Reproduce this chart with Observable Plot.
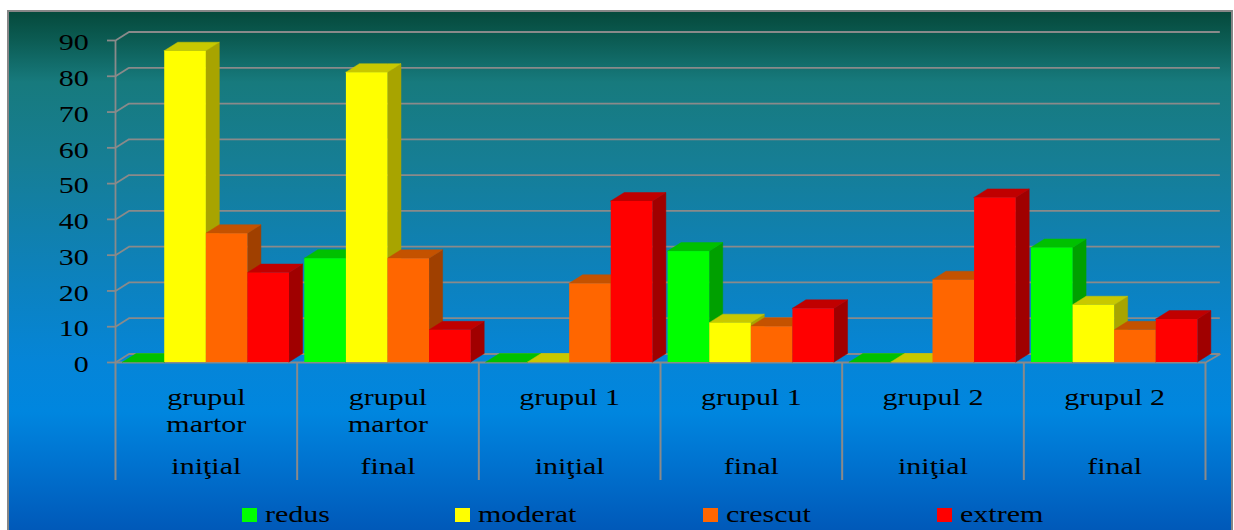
<!DOCTYPE html>
<html>
<head>
<meta charset="utf-8">
<script src="https://cdn.jsdelivr.net/npm/d3@7"></script>
<script src="https://cdn.jsdelivr.net/npm/@observablehq/plot@0.6"></script>
<style>
  html, body { margin: 0; padding: 0; background: #ffffff; width: 1234px; height: 530px; overflow: hidden; }
  #frame {
    position: absolute; left: 7px; top: 10px; width: 1222px; height: 530px;
    border: 2px solid #868686; border-bottom: none;
    background: linear-gradient(to bottom,
      #054a3c 0px, #0c5d55 30px, #177a7d 70px, #167e95 150px, #0e81b8 250px,
      #0585d8 350px, #0086df 400px, #0073d0 450px, #0058b8 520px);
  }
  #chart { position: absolute; left: 0; top: 0; }
  #legend { position: absolute; left: 0; top: 490px; width: 1234px; height: 40px;
    font-family: "Liberation Serif", "Times New Roman", serif; font-size: 24px; color: #000; }
  .item { position: absolute; top: 0; height: 40px; }
  .sw { position: absolute; left: 0; top: 18px; width: 15px; height: 14px; }
  .lab { position: absolute; left: 23px; top: 12px; line-height: 24px; white-space: nowrap;
    transform: scaleX(1.25); transform-origin: 0 50%; }
</style>
</head>
<body>
<div id="frame"></div>
<div id="chart"></div>
<div id="legend"></div>
<script>
// ---- data ----
const categories = ["grupul\nmartor", "grupul\nmartor", "grupul 1", "grupul 1", "grupul 2", "grupul 2"];
const phases = ["iniţial", "final", "iniţial", "final", "iniţial", "final"];
const series = ["redus", "moderat", "crescut", "extrem"];
const redus   = [0, 29, 0, 31, 0, 32];
const moderat = [87, 81, 0, 11, 0, 16];
const crescut = [36, 29, 22, 10, 23, 9];
const extrem  = [25, 9, 45, 15, 46, 12];
const yTicks = [0, 10, 20, 30, 40, 50, 60, 70, 80, 90];

// ---- styles ----
const frontColors = ["#00ff00", "#ffff00", "#ff6600", "#ff0000"];
const topColors   = ["#00c000", "#c8c800", "#c45200", "#c00000"];
const sideColors  = ["#00a000", "#a8a400", "#a04000", "#a00000"];
const gridColor = "#8a8a8a";

// ---- layout ----
const W = 1234, H = 490;
const mL = 115, mR = 29, mT = 40, mB = 128;
const nCat = categories.length;
const kx = (W - mL - mR) / nCat;      // px per category unit
const ky = (H - mT - mB) / 90;        // px per value unit
const dX = 13.5 / kx, dY = 8.5 / ky;  // 3D depth in data units
const pad = 0.042, bw = (1 - 2 * pad) / series.length;

const valuesBySeries = [redus, moderat, crescut, extrem];
const bars = [];
valuesBySeries.forEach((vals, s) => vals.forEach((v, g) => {
  const x1 = g + pad + s * bw;
  bars.push({s, g, id: s + "-" + g, value: v, x1, x2: x1 + bw});
}));

const sidePts = bars.flatMap(b => [
  {s: b.s, id: b.id, x: b.x2, y1: 0, y2: b.value},
  {s: b.s, id: b.id, x: b.x2 + dX, y1: dY, y2: b.value + dY}
]);
const topPts = bars.flatMap(b => [
  {s: b.s, id: b.id, x: b.x1, y1: b.value, y2: b.value},
  {s: b.s, id: b.id, x: b.x1 + dX, y1: b.value, y2: b.value + dY},
  {s: b.s, id: b.id, x: b.x2, y1: b.value, y2: b.value + dY},
  {s: b.s, id: b.id, x: b.x2 + dX, y1: b.value + dY, y2: b.value + dY}
]);

const catRows = categories.map((c, g) => ({g, c, p: phases[g]}));

const sideMarks = series.map((_, s) => Plot.areaY(sidePts.filter(d => d.s === s),
  {x: "x", y1: "y1", y2: "y2", z: "id", fill: sideColors[s], stroke: sideColors[s], strokeWidth: 0.5, curve: "linear"}));
const topMarks = series.map((_, s) => Plot.areaY(topPts.filter(d => d.s === s),
  {x: "x", y1: "y1", y2: "y2", z: "id", fill: topColors[s], stroke: topColors[s], strokeWidth: 0.5, curve: "linear"}));
const frontMarks = series.map((_, s) => Plot.rect(bars.filter(d => d.s === s),
  {x1: "x1", x2: "x2", y1: 0, y2: "value", fill: frontColors[s]}));

const chart = Plot.plot({
  width: W, height: H,
  marginLeft: mL, marginRight: mR, marginTop: mT, marginBottom: mB,
  x: {domain: [0, nCat], axis: null},
  y: {domain: [0, 90], axis: null},
  style: {background: "transparent", fontFamily: "'Liberation Serif', 'Times New Roman', serif",
          fontSize: "24px", color: "black", overflow: "visible"},
  marks: [
    // back wall grid
    Plot.ruleY(yTicks, {y: d => d + dY, x1: dX, x2: nCat + dX * 1.1, stroke: gridColor, strokeWidth: 1.8}),
    // side-wall connectors
    Plot.link(yTicks, {x1: 0, y1: d => d, x2: dX, y2: d => d + dY, stroke: gridColor, strokeWidth: 1.8}),
    // value axis line and ticks
    Plot.ruleX([0], {y1: 0, y2: 90, stroke: gridColor, strokeWidth: 1.8}),
    Plot.ruleY(yTicks, {x1: -8 / kx, x2: 0, stroke: gridColor, strokeWidth: 1.8}),
    // floor
    Plot.ruleY([0], {x1: 0, x2: nCat, stroke: gridColor, strokeWidth: 1.8}),
    Plot.link([0], {x1: nCat, y1: 0, x2: nCat + dX * 1.1, y2: dY, stroke: gridColor, strokeWidth: 1.8}),
    // category separators
    Plot.ruleX(d3.range(nCat + 1), {y1: 0, y2: -118 / ky, stroke: gridColor, strokeWidth: 2}),
    // bars
    ...sideMarks, ...topMarks, ...frontMarks,
    // tick labels
    Plot.text(yTicks, {x: 0, y: d => d, text: d => String(d), textAnchor: "end", dx: -26.7, dy: 2, fill: "black"}),
    // category labels
    Plot.text(catRows, {x: d => d.g + 0.5, text: "c", frameAnchor: "bottom", lineAnchor: "top",
      dy: 22.7, lineHeight: 27.5 / 24, fill: "black"}),
    Plot.text(catRows, {x: d => d.g + 0.5, text: "p", frameAnchor: "bottom", lineAnchor: "middle",
      dy: 103.6, fill: "black"})
  ]
});

// horizontally stretched serif type as in the reference
chart.querySelectorAll("text").forEach(t => {
  const tr = t.getAttribute("transform");
  if (tr) t.setAttribute("transform", tr + " scale(1.25,1)");
});
document.getElementById("chart").appendChild(chart);

// ---- legend ----
const legendX = [242, 455, 703, 937];
const lg = d3.select("#legend");
series.forEach((name, s) => {
  const it = lg.append("div").attr("class", "item").style("left", legendX[s] + "px");
  it.append("div").attr("class", "sw").style("background", frontColors[s]);
  it.append("span").attr("class", "lab").text(name);
});
</script>
</body>
</html>
